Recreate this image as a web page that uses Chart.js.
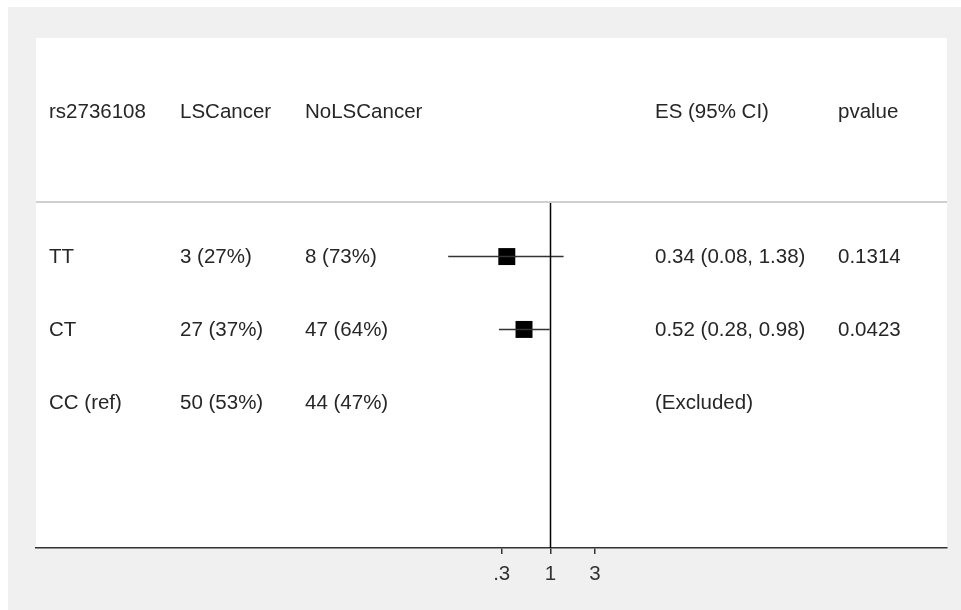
<!DOCTYPE html>
<html>
<head>
<meta charset="utf-8">
<script src="https://cdn.jsdelivr.net/npm/chart.js@4/dist/chart.umd.min.js"></script>
<style>
    html, body { margin: 0; padding: 0; background: #fff; }
    #wrap { width: 961px; height: 610px; }
</style>
</head>
<body>
<div id="wrap"><canvas id="forest"></canvas></div>
<script>
const genotypes = ["TT", "CT", "CC (ref)"];
const lsCancer = ["3 (27%)", "27 (37%)", "50 (53%)"];
const noLsCancer = ["8 (73%)", "47 (64%)", "44 (47%)"];
const esValues = [0.34, 0.52, null];
const ciLow = [0.08, 0.28, null];
const ciHigh = [1.38, 0.98, null];
const esLabels = ["0.34 (0.08, 1.38)", "0.52 (0.28, 0.98)", "(Excluded)"];
const pValues = ["0.1314", "0.0423", ""];
const headers = ["rs2736108", "LSCancer", "NoLSCancer", "ES (95% CI)", "pvalue"];
const xTicks = [0.3, 1, 3];
const xTickLabels = [".3", "1", "3"];

const FONT = "'Liberation Sans', Arial, sans-serif";
const xMin = Math.pow(10, -5.515);
const xMax = Math.pow(10, 4.25);
const headerRow = -1;
const sepRow = 0.25;

// one dataset per CI whisker
const ciSets = [];
genotypes.forEach((g, i) => {
    if (esValues[i] == null) return;
    ciSets.push({
        type: "line",
        data: [{ x: ciLow[i], y: i + 1 }, { x: ciHigh[i], y: i + 1 }],
        borderColor: "#333",
        borderWidth: 1.5,
        pointRadius: 0,
    });
});

const squares = {
    type: "scatter",
    data: esValues.map((v, i) => (v == null ? null : { x: v, y: i + 1 })).filter(Boolean),
    pointStyle: "rect",
    pointRadius: 12,
    backgroundColor: "#000",
    borderColor: "#000",
    borderWidth: 0,
};

const nullLine = {
    type: "line",
    data: [{ x: 1, y: sepRow }, { x: 1, y: 5 }],
    borderColor: "#000",
    borderWidth: 1.5,
    pointRadius: 0,
};

const separator = {
    type: "line",
    data: [{ x: xMin, y: sepRow }, { x: xMax, y: sepRow }],
    borderColor: "#cfcfcf",
    borderWidth: 2,
    pointRadius: 0,
};

const colX = [49, 180, 305, 655, 838];

const backdrop = {
    id: "backdrop",
    beforeDraw(chart) {
        const { ctx, chartArea: a } = chart;
        ctx.save();
        ctx.fillStyle = "#f0f0f0";
        ctx.fillRect(8, 7, chart.width - 8, chart.height - 7);
        ctx.fillStyle = "#fff";
        ctx.fillRect(a.left, a.top, a.right - a.left, a.bottom - a.top);
        ctx.restore();
    },
    afterDatasetsDraw(chart) {
        const { ctx } = chart;
        const y = chart.scales.y;
        ctx.save();
        ctx.font = "20.5px " + FONT;
        ctx.fillStyle = "#262626";
        ctx.textBaseline = "middle";
        ctx.textAlign = "left";
        headers.forEach((h, i) => ctx.fillText(h, colX[i], y.getPixelForValue(headerRow) + 1.5));
        genotypes.forEach((g, i) => {
            const py = y.getPixelForValue(i + 1) + 1;
            [g, lsCancer[i], noLsCancer[i], esLabels[i], pValues[i]].forEach((t, c) => {
                ctx.fillText(t, colX[c], py);
            });
        });
        ctx.restore();
    },
};

new Chart(document.getElementById("forest"), {
    data: { datasets: [separator, nullLine, ...ciSets, squares] },
    options: {
        responsive: true,
        maintainAspectRatio: false,
        animation: false,
        layout: { padding: { left: 36, right: 14, top: 38, bottom: 0 } },
        plugins: { legend: { display: false }, tooltip: { enabled: false } },
        scales: {
            x: {
                type: "logarithmic",
                min: xMin,
                max: xMax,
                afterBuildTicks: (s) => { s.ticks = xTicks.map((v) => ({ value: v })); },
                afterFit: (s) => { s.height = 62; },
                ticks: {
                    autoSkip: false,
                    maxRotation: 0,
                    padding: 8,
                    color: "#333",
                    font: { family: FONT, size: 20.5 },
                    callback: (v) => xTickLabels[xTicks.indexOf(v)] ?? "",
                },
                grid: { drawOnChartArea: false, drawTicks: true, tickLength: 6, color: "#333", lineWidth: 1.5 },
                border: { display: true, color: "#333", width: 1.5 },
            },
            y: {
                type: "linear",
                reverse: true,
                min: -2,
                max: 5,
                display: false,
            },
        },
    },
    plugins: [backdrop],
});
</script>
</body>
</html>
